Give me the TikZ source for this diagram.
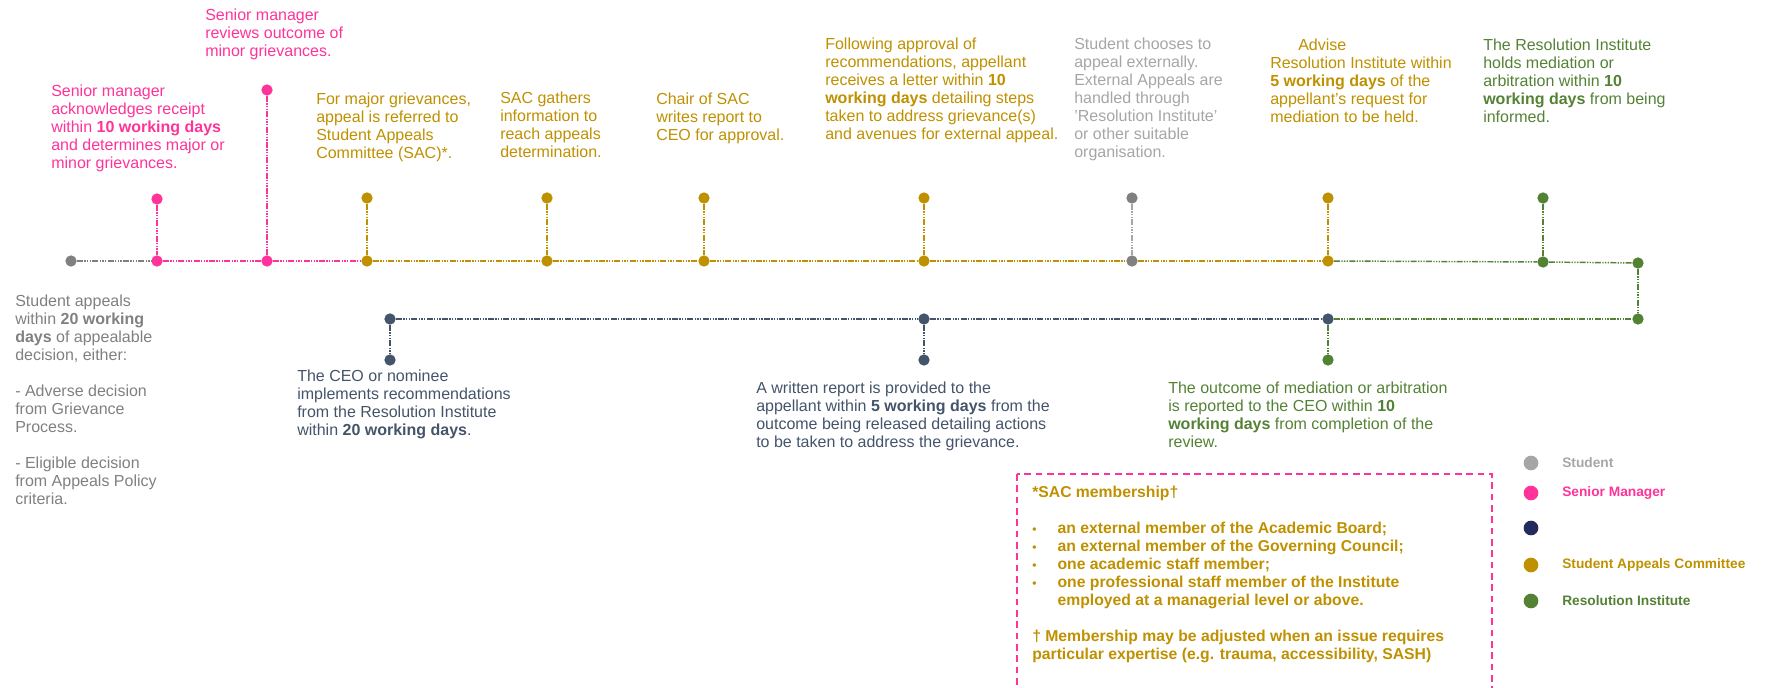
\documentclass[tikz,border=0pt]{standalone}
\usepackage{fontspec}
\setmainfont{Liberation Sans}
\usetikzlibrary{positioning}

\definecolor{smpink}{RGB}{255,51,153}
\definecolor{sacgold}{RGB}{191,144,0}
\definecolor{stgray}{RGB}{128,128,128}
\definecolor{stlight}{RGB}{166,166,166}
\definecolor{ceoslate}{RGB}{68,84,106}
\definecolor{ceonavy}{RGB}{34,42,94}
\definecolor{rigreen}{RGB}{84,130,53}

\tikzset{
  tdot/.style={circle,fill=#1,inner sep=0pt,minimum size=8.5pt},
  legdot/.style={circle,fill=#1,inner sep=0pt,minimum size=11pt},
  thickline/.style={draw=#1,line width=2.1pt,dash pattern=on 4.5pt off 1pt on 1pt off 1pt on 1pt off 1pt on 1pt off 1pt},
  thinline/.style={draw=#1,line width=1.1pt,dash pattern=on 4.5pt off 1pt on 1pt off 1pt on 1pt off 1pt on 1pt off 1pt},
  note/.style={anchor=north west,inner sep=0pt,align=left,text=#1,font=\fontsize{12}{13.5}\selectfont},
  legtext/.style={anchor=west,inner sep=0pt,text=#1,font=\fontsize{10.3}{12}\selectfont\bfseries}
}

\begin{document}
\begin{tikzpicture}[x=0.75pt,y=-0.75pt]
\useasboundingbox (0,0) rectangle (1767,688);

% dots on the main line
\node[tdot=stgray] (start) at (71,261) {};
\node[tdot=smpink] (p1) at (157,261) {};
\node[tdot=smpink] (p1t) at (157,199) {};
\node[tdot=smpink] (p2) at (267,261) {};
\node[tdot=smpink] (p2t) at (267,90) {};
\node[tdot=sacgold] (g1) at (367,261) {};
\node[tdot=sacgold] (g1t) at (367,198) {};
\node[tdot=sacgold] (g2) at (547,261) {};
\node[tdot=sacgold] (g2t) at (547,198) {};
\node[tdot=sacgold] (g3) at (704,261) {};
\node[tdot=sacgold] (g3t) at (704,198) {};
\node[tdot=sacgold] (g4) at (924,261) {};
\node[tdot=sacgold] (g4t) at (924,198) {};
\node[tdot=stgray] (s2) at (1132,261) {};
\node[tdot=stgray] (s2t) at (1132,198) {};
\node[tdot=sacgold] (g5) at (1328,261) {};
\node[tdot=sacgold] (g5t) at (1328,198) {};
\node[tdot=rigreen] (r1) at (1543,262) {};
\node[tdot=rigreen] (r1t) at (1543,198) {};
\node[tdot=rigreen] (rend) at (1638,263) {};
\node[tdot=rigreen] (rlow) at (1638,319) {};

% dots on the lower line
\node[tdot=ceoslate] (c1) at (390,319) {};
\node[tdot=ceoslate] (c1b) at (390,360) {};
\node[tdot=ceoslate] (c2) at (924,319) {};
\node[tdot=ceoslate] (c2b) at (924,360) {};
\node[tdot=ceoslate] (c3) at (1328,319) {};
\node[tdot=rigreen] (c3b) at (1328,360) {};

% main line
\draw[thickline=stgray] (start) -- (p1);
\draw[thinline=smpink] (p1) -- (p2) -- (g1);
\draw[thickline=sacgold] (g1) -- (g2) -- (g3) -- (g4) -- (s2) -- (g5);
\draw[thinline=rigreen] (g5) -- (r1) -- (rend);
\draw[thinline=rigreen] (rend) -- (rlow);
% lower line
\draw[thinline=ceoslate] (c1) -- (c2) -- (c3);
\draw[thinline=rigreen] (c3) -- (rlow);

% stems
\draw[thinline=smpink] (p1t) -- (p1);
\draw[thinline=smpink] (p2t) -- (p2);
\draw[thickline=sacgold] (g1t) -- (g1);
\draw[thickline=sacgold] (g2t) -- (g2);
\draw[thinline=sacgold] (g3t) -- (g3);
\draw[thinline=sacgold] (g4t) -- (g4);
\draw[thinline=stlight] (s2t) -- (s2);
\draw[thickline=sacgold] (g5t) -- (g5);
\draw[thickline=rigreen] (r1t) -- (r1);
\draw[thickline=ceoslate] (c1) -- (c1b);
\draw[thickline=ceoslate] (c2) -- (c2b);
\draw[thickline=rigreen] (c3) -- (c3b);

% notes above
\node[note=smpink] (smreview) at (205,9) {Senior manager\\reviews outcome of\\minor grievances.};
\node[note=smpink] (smack) at (51,85) {Senior manager\\acknowledges receipt\\within \textbf{10 working days}\\and determines major or\\minor grievances.};
\node[note=sacgold] (major) at (316,93) {For major grievances,\\appeal is referred to\\Student Appeals\\Committee (SAC)*.};
\node[note=sacgold] (gather) at (500,92) {SAC gathers\\information to\\reach appeals\\determination.};
\node[note=sacgold] (chair) at (656,93) {Chair of SAC\\writes report to\\CEO for approval.};
\node[note=sacgold] (letter) at (825,38) {Following approval of\\recommendations, appellant\\receives a letter within \textbf{10}\\\textbf{working days} detailing steps\\taken to address grievance(s)\\and avenues for external appeal.};
\node[note=stlight] (external) at (1074,38) {Student chooses to\\appeal externally.\\External Appeals are\\handled through\\'Resolution Institute'\\or other suitable\\organisation.};
\node[note=sacgold] (advise) at (1270,39) {\hspace*{21pt}Advise\\Resolution Institute within\\\textbf{5 working days} of the\\appellant's request for\\mediation to be held.};
\node[note=rigreen] (holds) at (1483,39) {The Resolution Institute\\holds mediation or\\arbitration within \textbf{10}\\\textbf{working days} from being\\informed.};

% notes below
\node[note=stgray] (appeal) at (15,295) {Student appeals\\within \textbf{20 working}\\\textbf{days} of appealable\\decision, either:\\~\\- Adverse decision\\from Grievance\\Process.\\~\\- Eligible decision\\from Appeals Policy\\criteria.};
\node[note=ceoslate] (implement) at (297,370) {The CEO or nominee\\implements recommendations\\from the Resolution Institute\\within \textbf{20 working days}.};
\node[note=ceoslate] (report) at (756,382) {A written report is provided to the\\appellant within \textbf{5 working days} from the\\outcome being released detailing actions\\to be taken to address the grievance.};
\node[note=rigreen] (outcome) at (1168,382) {The outcome of mediation or arbitration\\is reported to the CEO within \textbf{10}\\\textbf{working days} from completion of the\\review.};

% SAC membership box
\draw[smpink,line width=0.9pt,dash pattern=on 5pt off 3.5pt] (1017,474) rectangle (1492,720);
\node[note=sacgold,font=\fontsize{11.8}{13.5}\selectfont\bfseries] (member) at (1032,486)
 {*SAC membership\textdagger\\~\\
  \makebox[19pt][l]{\small\textbullet}an external member of the Academic Board;\\
  \makebox[19pt][l]{\small\textbullet}an external member of the Governing Council;\\
  \makebox[19pt][l]{\small\textbullet}one academic staff member;\\
  \makebox[19pt][l]{\small\textbullet}one professional staff member of the Institute\\
  \hspace*{19pt}employed at a managerial level or above.\\~\\
  \textdagger\ Membership may be adjusted when an issue requires\\
  particular expertise (e.g. trauma, accessibility, SASH)};

% legend
\node[legdot=stlight] (lstudent) at (1531,463) {};
\node[legdot=smpink] (lsm) at (1531,493) {};
\node[legdot=ceonavy] (lceo) at (1531,528) {};
\node[legdot=sacgold] (lsac) at (1531,565) {};
\node[legdot=rigreen] (lri) at (1531,601) {};
\node[legtext=stlight] at (1562,463) {Student};
\node[legtext=smpink] at (1562,493) {Senior Manager};
\node[legtext=sacgold] at (1562,565) {Student Appeals Committee};
\node[legtext=rigreen] at (1562,601) {Resolution Institute};
\end{tikzpicture}
\end{document}
